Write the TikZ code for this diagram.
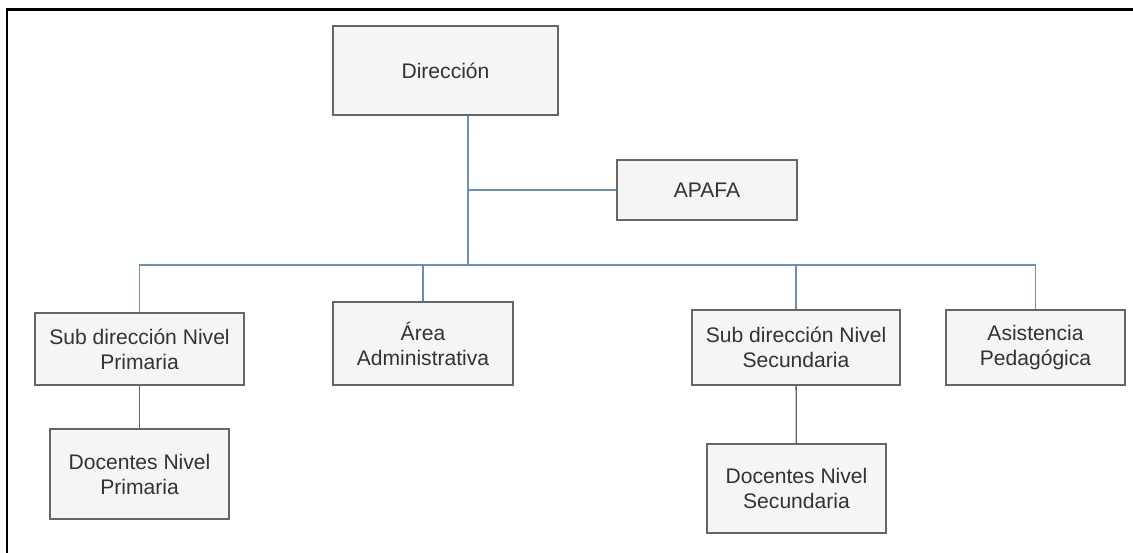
\documentclass[tikz,border=0pt]{standalone}
\usepackage{fontspec}
\setmainfont{Liberation Sans}
\usepackage{xcolor}
\usepackage{tikz}
\usetikzlibrary{positioning, calc}

\definecolor{boxfill}{HTML}{F5F5F5}
\definecolor{boxline}{HTML}{666666}
\definecolor{linkblue}{HTML}{6C8EBF}
\definecolor{textgray}{HTML}{333333}

\begin{document}
\begin{tikzpicture}[
    x=0.02cm, y=-0.02cm,
    unit/.style={rectangle, draw=boxline, fill=boxfill, line width=0.8pt, inner sep=0pt, text=textgray, font=\fontsize{12}{14.2}\selectfont, align=center},
    bluelink/.style={draw=linkblue, line width=0.75pt},
    graylink/.style={draw=boxline, line width=0.75pt}
]
\useasboundingbox (0,0) rectangle (1133,553);

% frame
\draw[line width=1.7pt] (7,553) -- (7,10) -- (1133,10);

% top level
\node[unit, minimum width=225*0.02cm, minimum height=89*0.02cm] (dir) at (445.5,70.5) {Dirección};
\node[unit, minimum width=180*0.02cm, minimum height=60*0.02cm] (apafa) at (707,190) {APAFA};

% second level
\node[unit, minimum width=209*0.02cm, minimum height=72*0.02cm] (subprim) at (139.5,349) {Sub dirección Nivel\\Primaria};
\node[unit, minimum width=180*0.02cm, minimum height=83*0.02cm] (area) at (423,343.5) {Área\\Administrativa};
\node[unit, minimum width=208*0.02cm, minimum height=75*0.02cm] (subsec) at (796,347.5) {Sub dirección Nivel\\Secundaria};
\node[unit, minimum width=179*0.02cm, minimum height=75*0.02cm] (asis) at (1035.5,347.5) {Asistencia\\Pedagógica};

% third level
\node[unit, minimum width=179*0.02cm, minimum height=90*0.02cm] (docprim) at (139.5,474) {Docentes Nivel\\Primaria};
\node[unit, minimum width=179*0.02cm, minimum height=89*0.02cm] (docsec) at (796.5,488.5) {Docentes Nivel\\Secundaria};

% connectors
\coordinate (bus) at (468,265);
\draw[bluelink] (dir.south -| bus) -- (bus);
\draw[bluelink] (apafa.west) -- (apafa.west -| bus);
\draw[bluelink] (subprim.north) |- (asis.north |- bus) -- (asis.north);
\draw[bluelink] (area.north) -- (area.north |- bus);
\draw[bluelink] (subsec.north) -- (subsec.north |- bus);
\draw[graylink] (subprim) -- (docprim);
\draw[graylink] (subsec) -- (docsec);

\end{tikzpicture}
\end{document}
